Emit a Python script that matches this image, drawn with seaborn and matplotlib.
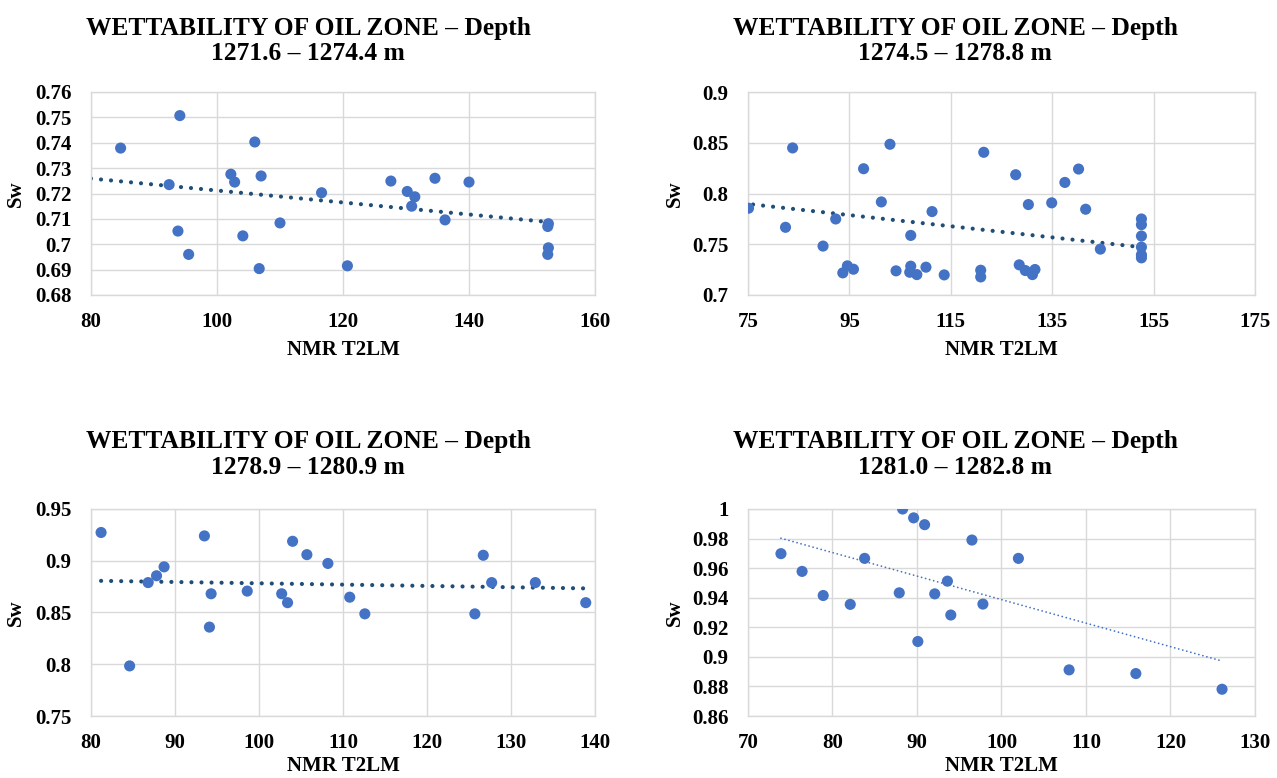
import numpy as np
import pandas as pd
import matplotlib
matplotlib.use("Agg")
import matplotlib.pyplot as plt
import seaborn as sns
from matplotlib.ticker import FixedLocator, FuncFormatter

# ---------------- data ----------------
titles = [
    ("WETTABILITY OF OIL ZONE \u2013 Depth", "1271.6 \u2013 1274.4 m"),
    ("WETTABILITY OF OIL ZONE \u2013 Depth", "1274.5 \u2013 1278.8 m"),
    ("WETTABILITY OF OIL ZONE \u2013 Depth", "1278.9 \u2013 1280.9 m"),
    ("WETTABILITY OF OIL ZONE \u2013 Depth", "1281.0 \u2013 1282.8 m"),
]
x_label = "NMR T2LM"
y_label = "Sw"

p1_t2lm = [84.7, 94.1, 92.4, 93.8, 95.5, 102.2, 102.8, 106.0, 107.0, 104.1, 106.7,
           110.0, 116.6, 120.7, 127.6, 130.2, 131.4, 130.9, 134.6, 136.2, 140.0,
           152.6, 152.5, 152.6, 152.5]
p1_sw = [0.7379, 0.7507, 0.7235, 0.7052, 0.6960, 0.7276, 0.7245, 0.7403, 0.7269,
         0.7033, 0.6904, 0.7084, 0.7203, 0.6915, 0.7249, 0.7208, 0.7187, 0.7150,
         0.7260, 0.7096, 0.7245, 0.7081, 0.7070, 0.6986, 0.6960]

p2_t2lm = [75.1, 83.8, 82.4, 89.8, 92.3, 97.8, 101.3, 103.0, 93.7, 94.6, 95.8,
           104.2, 107.1, 107.1, 106.9, 108.3, 110.1, 111.3, 113.7, 120.9, 120.9,
           121.5, 127.8, 128.5, 129.7, 130.3, 131.1, 131.6, 134.9, 137.5, 140.2,
           141.6, 144.5, 152.6, 152.6, 152.6, 152.6, 152.6, 152.6]
p2_sw = [0.7855, 0.8449, 0.7667, 0.7482, 0.7749, 0.8244, 0.7917, 0.8485, 0.7218,
         0.7287, 0.7254, 0.7238, 0.7587, 0.7284, 0.7224, 0.7201, 0.7274, 0.7822,
         0.7198, 0.7244, 0.7178, 0.8406, 0.8185, 0.7297, 0.7241, 0.7891, 0.7201,
         0.7251, 0.7908, 0.8109, 0.8241, 0.7845, 0.7452, 0.7749, 0.7693, 0.7581,
         0.7472, 0.7396, 0.7366]

p3_t2lm = [81.2, 84.6, 86.8, 87.8, 88.7, 93.5, 94.3, 94.1, 98.6, 102.7, 103.4,
           104.0, 105.7, 108.2, 110.8, 112.6, 125.7, 126.7, 127.7, 132.9, 138.9]
p3_sw = [0.9273, 0.7984, 0.8789, 0.8855, 0.8941, 0.9240, 0.8681, 0.8359, 0.8707,
         0.8681, 0.8595, 0.9188, 0.9059, 0.8974, 0.8648, 0.8487, 0.8487, 0.9053,
         0.8789, 0.8789, 0.8595]

p4_t2lm = [73.9, 76.4, 78.9, 82.1, 83.8, 87.9, 88.3, 89.6, 90.9, 90.1, 92.1, 93.6,
           94.0, 96.5, 97.8, 102.0, 108.0, 115.9, 126.1]
p4_sw = [0.9698, 0.9578, 0.9415, 0.9355, 0.9666, 0.9433, 1.0000, 0.9940, 0.9894,
         0.9104, 0.9426, 0.9512, 0.9283, 0.9790, 0.9357, 0.9666, 0.8912, 0.8887,
         0.8781]

# linear trendlines (slope, intercept) and x extent
trend_slope = [-0.000236, -0.000549, -0.0001265, -0.001591]
trend_intercept = [0.74478, 0.83088, 0.89086, 1.09781]
trend_x = [(80.0, 152.5), (76.0, 152.6), (81.2, 138.9), (73.9, 126.1)]

x_ranges = [(80, 160, 20), (75, 175, 20), (80, 140, 10), (70, 130, 10)]
y_ranges = [(0.68, 0.76, 0.01), (0.70, 0.90, 0.05), (0.75, 0.95, 0.05), (0.86, 1.00, 0.02)]

# ---------------- style ----------------
sns.set_theme(style="white")
plt.rcParams["font.family"] = ["Liberation Serif", "DejaVu Serif"]
plt.rcParams["font.weight"] = "bold"
for k in ["text.color", "axes.labelcolor", "xtick.color", "ytick.color"]:
    plt.rcParams[k] = "black"

W, H = 1277, 778
fig = plt.figure(figsize=(W / 100, H / 100), dpi=100)
fig.patch.set_facecolor("white")

# axes boxes in pixels: left, right, top, bottom
boxes = [(91, 595, 92, 295), (748, 1255, 92, 295),
         (91, 595, 509, 716), (748, 1255, 509, 716)]
title_y = [(28, 54), (28, 54), (442, 468), (442, 468)]
title_x = [308, 955, 308, 955]
xlabel_y = [350, 350, 766, 766]
ylabel_x = [16, 675, 16, 675]

datasets = [(p1_t2lm, p1_sw), (p2_t2lm, p2_sw), (p3_t2lm, p3_sw), (p4_t2lm, p4_sw)]
trend_styles = [
    dict(color="#1F4E79", lw=3.0, ls=(0, (0.01, 2.4))),
    dict(color="#1F4E79", lw=3.0, ls=(0, (0.01, 2.4))),
    dict(color="#1F4E79", lw=3.0, ls=(0, (0.01, 2.4))),
    dict(color="#4472C4", lw=1.3, ls=(0, (0.01, 2.3))),
]

fmt = FuncFormatter(lambda v, p: f"{round(v, 6):g}")
grid_c = "#D9D9D9"

for i, ((xv, yv), (l, r, t, b)) in enumerate(zip(datasets, boxes)):
    ax = fig.add_axes([l / W, 1 - b / H, (r - l) / W, (b - t) / H])
    df = pd.DataFrame({"T2LM": xv, "Sw": yv})
    sns.scatterplot(data=df, x="T2LM", y="Sw", ax=ax, color="#4472C4", s=64,
                    edgecolor="none", linewidth=0, zorder=3)

    x0, x1 = trend_x[i]
    tdf = pd.DataFrame({"T2LM": [x0, x1]})
    tdf["Sw"] = trend_slope[i] * tdf["T2LM"] + trend_intercept[i]
    st = trend_styles[i]
    ax.plot(tdf["T2LM"], tdf["Sw"], color=st["color"], lw=st["lw"],
            linestyle=st["ls"], dash_capstyle="round", zorder=2)

    xmin, xmax, xstep = x_ranges[i]
    ymin, ymax, ystep = y_ranges[i]
    ax.set_xlim(xmin, xmax)
    ax.set_ylim(ymin, ymax)
    ax.xaxis.set_major_locator(FixedLocator(np.arange(xmin, xmax + xstep / 2, xstep)))
    ax.yaxis.set_major_locator(FixedLocator(np.arange(ymin, ymax + ystep / 2, ystep)))
    ax.xaxis.set_major_formatter(fmt)
    ax.yaxis.set_major_formatter(fmt)
    ax.grid(True, color=grid_c, lw=1.0)
    ax.set_axisbelow(True)
    for sp in ax.spines.values():
        sp.set_visible(True)
        sp.set_color(grid_c)
        sp.set_linewidth(1.0)
    ax.tick_params(axis="both", length=0, labelsize=15, colors="black")
    ax.tick_params(axis="x", pad=12)
    ax.tick_params(axis="y", pad=14)
    for lab in ax.get_xticklabels() + ax.get_yticklabels():
        lab.set_fontweight("bold")

    ax.set_xlabel(x_label, fontsize=15, fontweight="bold", va="center")
    ax.set_ylabel(y_label, fontsize=15, fontweight="bold", va="center")
    ax.xaxis.set_label_coords(0.5, (b - xlabel_y[i]) / (b - t))
    ax.yaxis.set_label_coords((ylabel_x[i] - l) / (r - l), 0.5)

    l1, l2 = titles[i]
    ty1, ty2 = title_y[i]
    fig.text(title_x[i] / W, 1 - ty1 / H, l1, ha="center", va="center",
             fontsize=18.4, fontweight="bold")
    fig.text(title_x[i] / W, 1 - ty2 / H, l2, ha="center", va="center",
             fontsize=18.4, fontweight="bold")

fig.savefig("out.png", dpi=100, facecolor="white")
